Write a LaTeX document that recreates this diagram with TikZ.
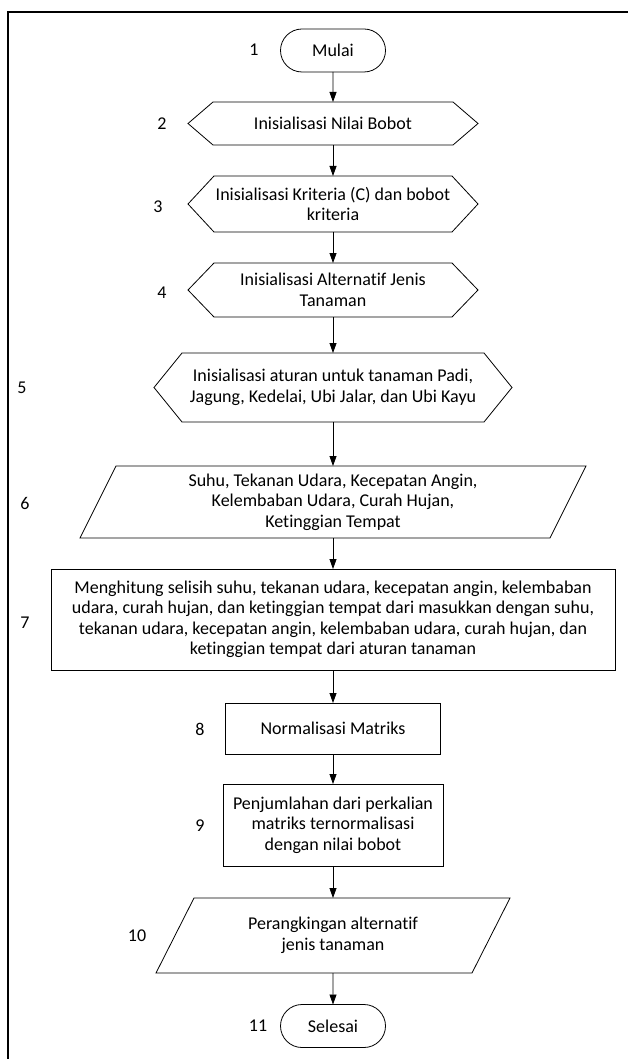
\documentclass[tikz,border=0pt]{standalone}
\usepackage{fontspec}
\setmainfont{Carlito}[Ligatures={NoCommon}]
\usetikzlibrary{arrows.meta,shapes.misc}

\tikzset{
  teks/.style={align=center, inner sep=0pt, outer sep=0pt},
  terminal/.style={teks, draw, line width=0.8pt, rounded rectangle, minimum width=105pt, minimum height=43pt},
  proses/.style={teks, draw, line width=0.8pt, rectangle},
  garis/.style={line width=0.8pt},
  panah/.style={line width=0.8pt, -{Triangle[length=10pt,width=7pt]}},
  nomor/.style={inner sep=0pt},
}

\begin{document}
\begin{tikzpicture}[x=1pt, y=-1pt, font=\fontsize{18}{20.5}\selectfont]
  \useasboundingbox (0,0) rectangle (628,1059);
  % bingkai
  \draw[line width=2.5pt] (628,12) -- (8,12) -- (8,1059);

  \node[terminal] (mulai) at (333,50.5) {Mulai};
  \node[teks, minimum width=290pt, minimum height=43pt] (bobot) at (333,123.5) {Inisialisasi Nilai Bobot};
  \node[teks, minimum width=290pt, minimum height=56pt] (kriteria) at (333,204) {Inisialisasi Kriteria (C) dan bobot\\kriteria};
  \node[teks, minimum width=290pt, minimum height=54pt] (alternatif) at (333,290) {Inisialisasi Alternatif Jenis\\Tanaman};
  \node[teks, minimum width=358pt, minimum height=69pt] (aturan) at (333,387.5) {Inisialisasi aturan untuk tanaman Padi,\\Jagung, Kedelai, Ubi Jalar, dan Ubi Kayu};
  \node[teks, minimum width=506pt, minimum height=72pt] (masukan) at (333,502) {Suhu, Tekanan Udara, Kecepatan Angin,\\Kelembaban Udara, Curah Hujan,\\Ketinggian Tempat};
  \node[proses, minimum width=564pt, minimum height=101pt] (selisih) at (333,619.5) {Menghitung selisih suhu, tekanan udara, kecepatan angin, kelembaban\\udara, curah hujan, dan ketinggian tempat dari masukkan dengan suhu,\\tekanan udara, kecepatan angin, kelembaban udara, curah hujan, dan\\ketinggian tempat dari aturan tanaman};
  \node[proses, minimum width=215pt, minimum height=51pt] (normal) at (333,728.5) {Normalisasi Matriks};
  \node[proses, minimum width=220pt, minimum height=82pt] (jumlah) at (333,825) {Penjumlahan dari perkalian\\matriks ternormalisasi\\dengan nilai bobot};
  \node[teks, minimum width=354pt, minimum height=75pt] (ranking) at (333,935.5) {Perangkingan alternatif\\jenis tanaman};
  \node[terminal] (selesai) at (333,1026) {Selesai};

  % bentuk heksagon dan jajar genjang
  \foreach \n/\d in {bobot/25, kriteria/26, alternatif/26, aturan/28}
    \draw[garis] ([xshift=\d pt]\n.north west) -- ([xshift=-\d pt]\n.north east) -- (\n.east)
      -- ([xshift=-\d pt]\n.south east) -- ([xshift=\d pt]\n.south west) -- (\n.west) -- cycle;
  \foreach \n/\s in {masukan/36, ranking/38}
    \draw[garis] ([xshift=\s pt]\n.north west) -- (\n.north east)
      -- ([xshift=-\s pt]\n.south east) -- (\n.south west) -- cycle;

  % nomor langkah
  \foreach \i/\x/\y in {1/254/50, 2/162/124, 3/158/207, 4/162/293, 5/22/388, 6/25/503,
                        7/25/623, 8/200/729, 9/200/826, 10/137/936, 11/258/1026}
    \node[nomor] (no\i) at (\x,\y) {\i};

  \foreach \a/\b in {mulai/bobot, bobot/kriteria, kriteria/alternatif, alternatif/aturan,
                     aturan/masukan, masukan/selisih, selisih/normal, normal/jumlah,
                     jumlah/ranking, ranking/selesai}
    \draw[panah] (\a) -- (\b);
\end{tikzpicture}
\end{document}
